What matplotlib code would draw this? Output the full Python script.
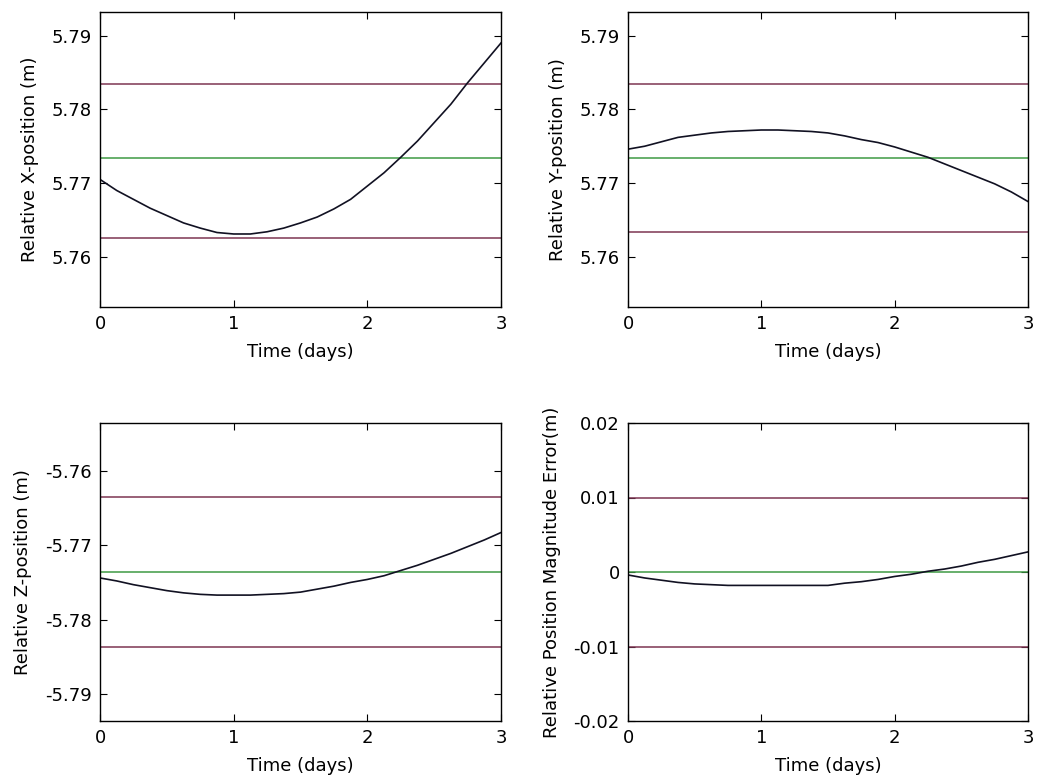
"""Relative position of the formation over three days, 2x2 panels."""

import matplotlib
matplotlib.use("Agg")
import matplotlib.pyplot as plt

days = [0.0, 0.125, 0.25, 0.375, 0.5, 0.625, 0.75, 0.875, 1.0, 1.125, 1.25,
        1.375, 1.5, 1.625, 1.75, 1.875, 2.0, 2.125, 2.25, 2.375, 2.5, 2.625,
        2.75, 2.875, 3.0]

rel_x = [5.7705, 5.7690, 5.7678, 5.7666, 5.7656, 5.7646, 5.7639, 5.7633,
         5.7631, 5.7631, 5.7634, 5.7639, 5.7646, 5.7654, 5.7665, 5.7678,
         5.7696, 5.7714, 5.7735, 5.7757, 5.7782, 5.7807, 5.7836, 5.7863,
         5.7890]
rel_y = [5.7746, 5.7750, 5.7756, 5.7762, 5.7765, 5.7768, 5.7770, 5.7771,
         5.7772, 5.7772, 5.7771, 5.7770, 5.7768, 5.7764, 5.7759, 5.7755,
         5.7749, 5.7742, 5.7735, 5.7726, 5.7717, 5.7708, 5.7699, 5.7688,
         5.7675]
rel_z = [-5.7744, -5.7748, -5.7753, -5.7757, -5.7761, -5.7764, -5.7766,
         -5.7767, -5.7767, -5.7767, -5.7766, -5.7765, -5.7763, -5.7759,
         -5.7755, -5.7750, -5.7746, -5.7741, -5.7734, -5.7727, -5.7719,
         -5.7711, -5.7702, -5.7693, -5.7683]
mag_err = [-0.0004, -0.0008, -0.0011, -0.0014, -0.0016, -0.0017, -0.0018,
           -0.0018, -0.0018, -0.0018, -0.0018, -0.0018, -0.0018, -0.0015,
           -0.0013, -0.0010, -0.0006, -0.0003, 0.0001, 0.0004, 0.0008,
           0.0013, 0.0017, 0.0022, 0.0027]

# nominal value and +/- bounds per panel
nominal = [5.7734, 5.7734, -5.7736, 0.0]
upper = [5.7835, 5.7835, -5.7635, 0.01]
lower = [5.7626, 5.7634, -5.7836, -0.01]

ylims = [(5.7532, 5.7932), (5.7532, 5.7932), (-5.7936, -5.7536), (-0.02, 0.02)]
yticks = [
    [5.76, 5.77, 5.78, 5.79],
    [5.76, 5.77, 5.78, 5.79],
    [-5.79, -5.78, -5.77, -5.76],
    [-0.02, -0.01, 0, 0.01, 0.02],
]
yticklabels = [
    ["5.76", "5.77", "5.78", "5.79"],
    ["5.76", "5.77", "5.78", "5.79"],
    ["-5.79", "-5.78", "-5.77", "-5.76"],
    ["-0.02", "-0.01", "0", "0.01", "0.02"],
]
ylabels = [
    "Relative X-position (m)",
    "Relative Y-position (m)",
    "Relative Z-position (m)",
    "Relative Position Magnitude Error(m)",
]
xticks = [0, 1, 2, 3]

RED = "#7d3552"
GREEN = "#3f9a44"

plt.rcParams.update({
    "font.family": ["DejaVu Sans"],
    "font.size": 13,
})

fig = plt.figure(figsize=(10.46, 7.83), dpi=100)
W, H = 1046, 783
boxes = [(100, 12, 501, 307), (628, 12, 1028, 307),
         (100, 423, 501, 721), (628, 423, 1028, 721)]
series = [rel_x, rel_y, rel_z, mag_err]

for i, (l, t, r, b) in enumerate(boxes):
    ax = fig.add_axes([l / W, 1 - b / H, (r - l) / W, (b - t) / H])
    ax.axhline(upper[i], color=RED, linewidth=1.1)
    ax.axhline(lower[i], color=RED, linewidth=1.1)
    ax.axhline(nominal[i], color=GREEN, linewidth=1.1)
    ax.plot(days, series[i], color="#111122", linewidth=1.2)
    ax.set_xlim(0, 3)
    ax.set_ylim(*ylims[i])
    ax.set_xticks(xticks)
    ax.set_yticks(yticks[i])
    ax.set_yticklabels(yticklabels[i])
    ax.set_xlabel("Time (days)", labelpad=7)
    ax.set_ylabel(ylabels[i], labelpad=9)
    ax.tick_params(direction="in", length=5, width=0.8, top=True, right=True,
                   labelsize=13, pad=6)
    for s in ax.spines.values():
        s.set_linewidth(1.0)

fig.savefig("out.png", dpi=100)
